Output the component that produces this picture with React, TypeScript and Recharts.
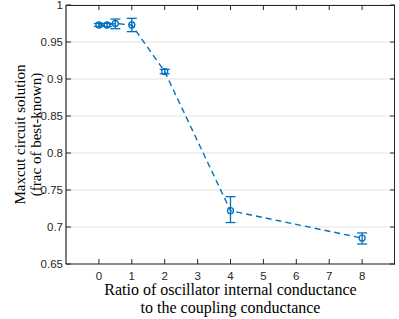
import React from "react";
import { ComposedChart, Line, XAxis, YAxis, CartesianGrid, ErrorBar } from "recharts";

const ratios = [0, 0.25, 0.5, 1, 2, 4, 8];
const solution = [0.973, 0.973, 0.975, 0.973, 0.91, 0.722, 0.685];
const errLow = [0.002, 0.002, 0.007, 0.009, 0.003, 0.016, 0.008];
const errHigh = [0.002, 0.002, 0.006, 0.009, 0.003, 0.019, 0.007];
const xTicks = [0, 1, 2, 3, 4, 5, 6, 7, 8];
const yTicks = [0.65, 0.7, 0.75, 0.8, 0.85, 0.9, 0.95, 1];
const yTickLabels = ["0.65", "0.7", "0.75", "0.8", "0.85", "0.9", "0.95", "1"];
const xLabelLines = ["Ratio of oscillator internal conductance", "to the coupling conductance"];
const yLabelLines = ["Maxcut circuit solution", "(frac of best-known)"];
const X_DOMAIN = [-1, 9];
const Y_DOMAIN = [0.65, 1];

const data = ratios.map((r, i) => ({
  r,
  v: solution[i],
  err: [errLow[i], errHigh[i]],
}));

const W = 399;
const H = 319;
const MARGIN = { top: 5, right: 4, bottom: 0, left: 0 };
const YAXIS_W = 66;
const XAXIS_H = 55;
const PLOT = {
  left: MARGIN.left + YAXIS_W,
  right: W - MARGIN.right,
  top: MARGIN.top,
  bottom: H - MARGIN.bottom - XAXIS_H,
};

const BLUE = "#0072BD";
const AX = "#262626";
const TICKFONT = "'Liberation Sans', Arial, sans-serif";
const LABELFONT = "'Liberation Serif', 'Times New Roman', serif";

const BottomTick = (props: any) => {
  const { x, y, payload } = props;
  const ay = y - 8;
  return (
    <g>
      <line x1={x} x2={x} y1={ay} y2={ay - 5} stroke={AX} strokeWidth={1} />
      <line x1={x} x2={x} y1={PLOT.top} y2={PLOT.top + 5} stroke={AX} strokeWidth={1} />
      <text x={x} y={y} dy="0.71em" textAnchor="middle" fill={AX} style={{ fontFamily: TICKFONT, fontSize: 11.5 }}>
        {payload.value}
      </text>
    </g>
  );
};

const LeftTick = (props: any) => {
  const { x, y, payload } = props;
  const ax = x + 3;
  const idx = yTicks.findIndex((t) => Math.abs(t - payload.value) < 1e-9);
  return (
    <g>
      <line x1={ax} x2={ax + 5} y1={y} y2={y} stroke={AX} strokeWidth={1} />
      <line x1={PLOT.right} x2={PLOT.right - 5} y1={y} y2={y} stroke={AX} strokeWidth={1} />
      <text x={x} y={y} dy="0.35em" textAnchor="end" fill={AX} style={{ fontFamily: TICKFONT, fontSize: 11.5 }}>
        {idx >= 0 ? yTickLabels[idx] : payload.value}
      </text>
    </g>
  );
};

const XLabel = (props: any) => {
  const vb = props.viewBox;
  const cx = vb.x + vb.width / 2;
  return (
    <text textAnchor="middle" fill="#000" style={{ fontFamily: LABELFONT, fontSize: 16 }}>
      <tspan x={cx} y={vb.y + 31}>{xLabelLines[0]}</tspan>
      <tspan x={cx} y={vb.y + 49}>{xLabelLines[1]}</tspan>
    </text>
  );
};

const YLabel = (props: any) => {
  const vb = props.viewBox;
  const cy = vb.y + vb.height / 2;
  return (
    <g>
      <text transform={`translate(25, ${cy}) rotate(-90)`} x={0} y={0} textAnchor="middle" fill="#000" style={{ fontFamily: LABELFONT, fontSize: 15 }}>
        {yLabelLines[0]}
      </text>
      <text transform={`translate(41, ${cy}) rotate(-90)`} x={0} y={0} textAnchor="middle" fill="#000" style={{ fontFamily: LABELFONT, fontSize: 15 }}>
        {yLabelLines[1]}
      </text>
    </g>
  );
};

const Dot = (props: any) => {
  const { cx, cy } = props;
  if (cx == null || cy == null) return null;
  return <circle cx={cx} cy={cy} r={3} fill="none" stroke={BLUE} strokeWidth={1.3} />;
};

export default function App() {
  return (
    <div style={{ position: "absolute", left: 0, top: 0, width: W, height: H, background: "#fff" }}>
      <ComposedChart width={W} height={H} data={data} margin={MARGIN}>
        <CartesianGrid horizontal={true} vertical={false} stroke="#e3e3e3" strokeWidth={1} />
        <XAxis
          dataKey="r"
          type="number"
          domain={X_DOMAIN}
          ticks={xTicks}
          height={XAXIS_H}
          tickSize={0}
          tickMargin={8}
          tickLine={false}
          axisLine={{ stroke: AX, strokeWidth: 1.2 }}
          tick={<BottomTick />}
          interval={0}
          label={<XLabel />}
        />
        <YAxis
          type="number"
          domain={Y_DOMAIN}
          ticks={yTicks}
          width={YAXIS_W}
          tickSize={0}
          tickMargin={3}
          tickLine={false}
          axisLine={{ stroke: AX, strokeWidth: 1.2 }}
          tick={<LeftTick />}
          interval={0}
          label={<YLabel />}
        />
        <Line
          dataKey="v"
          type="linear"
          stroke={BLUE}
          strokeWidth={1.4}
          strokeDasharray="6 4"
          dot={<Dot />}
          activeDot={false}
          isAnimationActive={false}
        >
          <ErrorBar dataKey="err" direction="y" width={5} stroke={BLUE} strokeWidth={1.3} isAnimationActive={false} />
        </Line>
      </ComposedChart>
      <div
        style={{
          position: "absolute",
          left: PLOT.left - 0.5,
          top: PLOT.top - 0.5,
          width: PLOT.right - PLOT.left,
          height: PLOT.bottom - PLOT.top,
          borderTop: `1px solid ${AX}`,
          borderRight: `1px solid ${AX}`,
          boxSizing: "border-box",
          pointerEvents: "none",
        }}
      />
    </div>
  );
}
